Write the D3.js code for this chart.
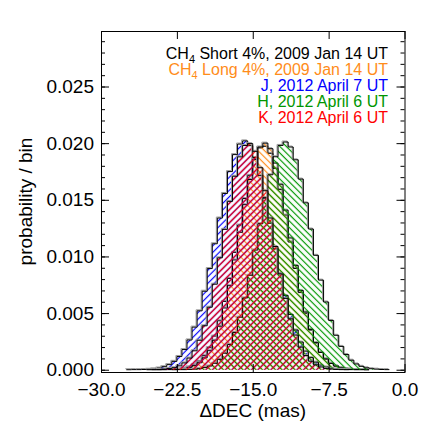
<!DOCTYPE html>
<meta charset="utf-8">
<style>
  body { margin: 0; background: #fff; }
  text { font-family: "Liberation Sans", Arial, sans-serif; }
  .legend { font-size: 16px; }
</style>
<svg width="436" height="436"></svg>
<script src="https://d3js.org/d3.v7.min.js"></script>
<script>
// histogram bins: left edge of first bin and width (mas)
var binStart = -28;
var binWidth = 0.5;

// probability per bin, bins from -28 to -1.5 mas
var ch4Short = [0,0,0,0,0,0,
  0.00000,0.00001,0.00001,0.00002,0.00004,0.00007,0.00013,0.00025,0.00044,0.00075,
  0.00124,0.00195,0.00297,0.00432,0.00603,0.00806,0.01036,0.01277,0.01511,0.01716,
  0.01870,0.01958,0.01972,0.01910,0.01777,0.01590,0.01365,0.01127,0.00894,0.00681,
  0.00498,0.00350,0.00236,0.00153,0.00095,0.00057,0.00033,0.00018,0.00010,0.00005,
  0.00002,0.00001,0,0,0,0,0];
var ch4Long = [0,0,0,0,0,0,
  0.00000,0.00000,0.00001,0.00001,0.00003,0.00005,0.00010,0.00020,0.00036,0.00062,
  0.00105,0.00168,0.00260,0.00384,0.00545,0.00742,0.00969,0.01213,0.01457,0.01679,
  0.01855,0.01966,0.02000,0.01951,0.01824,0.01637,0.01409,0.01163,0.00921,0.00700,
  0.00510,0.00356,0.00239,0.00153,0.00095,0.00056,0.00032,0.00017,0.00009,0.00005,
  0.00002,0.00001,0,0,0,0,0];
var jBand = [0.00000,0.00000,0.00001,0.00001,0.00002,0.00004,
  0.00008,0.00015,0.00027,0.00045,0.00074,0.00117,0.00178,0.00263,0.00376,0.00520,
  0.00693,0.00893,0.01112,0.01339,0.01556,0.01749,0.01899,0.01992,0.02020,0.01978,
  0.01873,0.01713,0.01515,0.01293,0.01067,0.00851,0.00656,0.00488,0.00351,0.00244,
  0.00164,0.00107,0.00067,0.00040,0.00024,0.00013,0.00007,0.00004,0.00002,0.00001,
  0,0,0,0,0,0,0];
var hBand = [0,0,0,0,0,0,
  0,0,0,0,0.00000,0.00001,0.00001,0.00003,0.00005,0.00010,
  0.00019,0.00033,0.00057,0.00092,0.00146,0.00223,0.00329,0.00464,0.00634,0.00834,
  0.01056,0.01289,0.01518,0.01721,0.01880,0.01980,0.02010,0.01966,0.01853,0.01683,
  0.01473,0.01242,0.01010,0.00791,0.00598,0.00435,0.00304,0.00206,0.00134,0.00084,
  0.00051,0.00030,0.00017,0.00009,0.00005,0.00002,0.00001];
var kBand = [0,0,0,0,0.00000,0.00000,
  0.00001,0.00002,0.00005,0.00010,0.00018,0.00034,0.00060,0.00103,0.00167,0.00260,
  0.00388,0.00552,0.00755,0.00988,0.01239,0.01486,0.01708,0.01879,0.01979,0.01996,
  0.01928,0.01783,0.01580,0.01339,0.01088,0.00845,0.00630,0.00449,0.00306,0.00200,
  0.00125,0.00075,0.00043,0.00024,0.00012,0.00006,0.00003,0.00001,0,0,
  0,0,0,0,0,0,0];

var xTicks = [-30, -22.5, -15, -7.5, 0];
var yTicks = [0, 0.005, 0.010, 0.015, 0.020, 0.025];
var yMinor = d3.range(0, 0.0295, 0.001);

var labels = [
  {sub: true,  pre: "CH", post: " Short 4%, 2009 Jan 14 UT"},
  {sub: true,  pre: "CH", post: " Long 4%, 2009 Jan 14 UT"},
  {sub: false, pre: "J, 2012 April 7 UT"},
  {sub: false, pre: "H, 2012 April 6 UT"},
  {sub: false, pre: "K, 2012 April 6 UT"}
];

var series = [
  {values: ch4Short, color: "#000000", angle: null},
  {values: ch4Long,  color: "#ff8c1a", angle: -45},
  {values: jBand,    color: "#0000ff", angle: 45},
  {values: hBand,    color: "#009600", angle: -45},
  {values: kBand,    color: "#ff0000", angle: 45}
];

var svg = d3.select("svg");
svg.append("rect").attr("width", 436).attr("height", 436).attr("fill", "#fff");

var pLeft = 101, pRight = 404.5, pTop = 31, pBottom = 372;

var x = d3.scaleLinear().domain([-30, 0]).range([pLeft, pRight]);
var y = d3.scaleLinear().domain([-0.0002, 0.0299]).range([pBottom, pTop]);

var defs = svg.append("defs");
defs.append("clipPath").attr("id", "plot")
  .append("rect").attr("x", pLeft).attr("y", pTop)
  .attr("width", pRight - pLeft).attr("height", pBottom - pTop);

series.forEach(function(s, k) {
  if (s.angle === null) return;
  var p = defs.append("pattern")
    .attr("id", "hatch" + k)
    .attr("patternUnits", "userSpaceOnUse")
    .attr("width", 4.6).attr("height", 4.6)
    .attr("patternTransform", "rotate(" + s.angle + ")");
  p.append("line")
    .attr("x1", 2.3).attr("y1", 0).attr("x2", 2.3).attr("y2", 4.6)
    .attr("stroke", s.color).attr("stroke-width", 1.2);
});

var area = d3.area()
  .x(function(d) { return x(d[0]); })
  .y0(y(0))
  .y1(function(d) { return y(d[1]); })
  .curve(d3.curveStepAfter);

var line = d3.line()
  .x(function(d) { return x(d[0]); })
  .y(function(d) { return y(d[1]); })
  .curve(d3.curveStepAfter);

var plot = svg.append("g").attr("clip-path", "url(#plot)");

series.forEach(function(s, k) {
  // only the bins that hold something, plus one empty bin each side
  var first = s.values.findIndex(function(v) { return v > 0; });
  var last = s.values.length - 1 - s.values.slice().reverse().findIndex(function(v) { return v > 0; });
  var i0 = Math.max(first - 1, 0), i1 = Math.min(last + 1, s.values.length - 1);

  var pts = [];
  for (var i = i0; i <= i1; i++) pts.push([binStart + i * binWidth, s.values[i]]);
  pts.push([binStart + (i1 + 1) * binWidth, 0]);

  if (s.angle !== null) {
    plot.append("path").datum(pts)
      .attr("d", area)
      .attr("fill", "url(#hatch" + k + ")");
  }
  plot.append("path").datum(pts)
    .attr("d", line)
    .attr("fill", "none")
    .attr("stroke", "#9a9a9a")
    .attr("stroke-width", 1)
    .attr("transform", "translate(-1,-1)");
  plot.append("path").datum(pts)
    .attr("d", line)
    .attr("fill", "none")
    .attr("stroke", "#000")
    .attr("stroke-width", 1);
});

/* ---------- axes ---------- */

function styleAxis(g) {
  g.select(".domain").remove();
  g.selectAll(".tick line").attr("stroke", "#000");
  g.selectAll("text")
    .attr("fill", "#000")
    .style("font-family", "'Liberation Sans', Arial, sans-serif")
    .style("font-size", "19px");
}

svg.append("g")
  .attr("transform", "translate(0," + pBottom + ")")
  .call(d3.axisBottom(x).tickValues(xTicks).tickSize(-8).tickPadding(10.5).tickFormat(d3.format(".1f")))
  .call(styleAxis);

svg.append("g")
  .attr("transform", "translate(0," + pTop + ")")
  .call(d3.axisTop(x).tickValues(xTicks).tickSize(-8).tickFormat(""))
  .call(styleAxis);

svg.append("g")
  .attr("transform", "translate(" + pLeft + ",0)")
  .call(d3.axisLeft(y).tickValues(yTicks).tickSize(-8).tickPadding(7).tickFormat(d3.format(".3f")))
  .call(styleAxis);

svg.append("g")
  .attr("transform", "translate(" + pLeft + ",0)")
  .call(d3.axisLeft(y).tickValues(yMinor).tickSize(-4).tickFormat(""))
  .call(styleAxis);

svg.append("g")
  .attr("transform", "translate(" + pRight + ",0)")
  .call(d3.axisRight(y).tickValues(yTicks).tickSize(-8).tickFormat(""))
  .call(styleAxis);

svg.append("g")
  .attr("transform", "translate(" + pRight + ",0)")
  .call(d3.axisRight(y).tickValues(yMinor).tickSize(-4).tickFormat(""))
  .call(styleAxis);

svg.append("rect")
  .attr("x", pLeft + 0.5).attr("y", pTop + 0.5)
  .attr("width", pRight - pLeft).attr("height", pBottom - pTop)
  .attr("fill", "none")
  .attr("stroke", "#000")
  .attr("stroke-width", 1);

svg.append("text")
  .attr("x", (pLeft + pRight) / 2)
  .attr("y", 417)
  .attr("text-anchor", "middle")
  .style("font-size", "19px")
  .text("\u0394DEC (mas)");

svg.append("text")
  .attr("transform", "translate(32," + ((pTop + pBottom) / 2) + ") rotate(-90)")
  .attr("text-anchor", "middle")
  .style("font-size", "19px")
  .text("probability / bin");

/* ---------- legend ---------- */

var legendY = [59, 75, 91, 107, 122.5];

labels.forEach(function(d, i) {
  var t = svg.append("text")
    .attr("class", "legend")
    .attr("x", 388)
    .attr("y", legendY[i])
    .attr("text-anchor", "end")
    .attr("fill", series[i].color);
  t.append("tspan").text(d.pre);
  if (d.sub) {
    t.append("tspan").attr("dy", 4).style("font-size", "11px").text("4");
    t.append("tspan").attr("dy", -4).text(d.post);
  }
});
</script>
